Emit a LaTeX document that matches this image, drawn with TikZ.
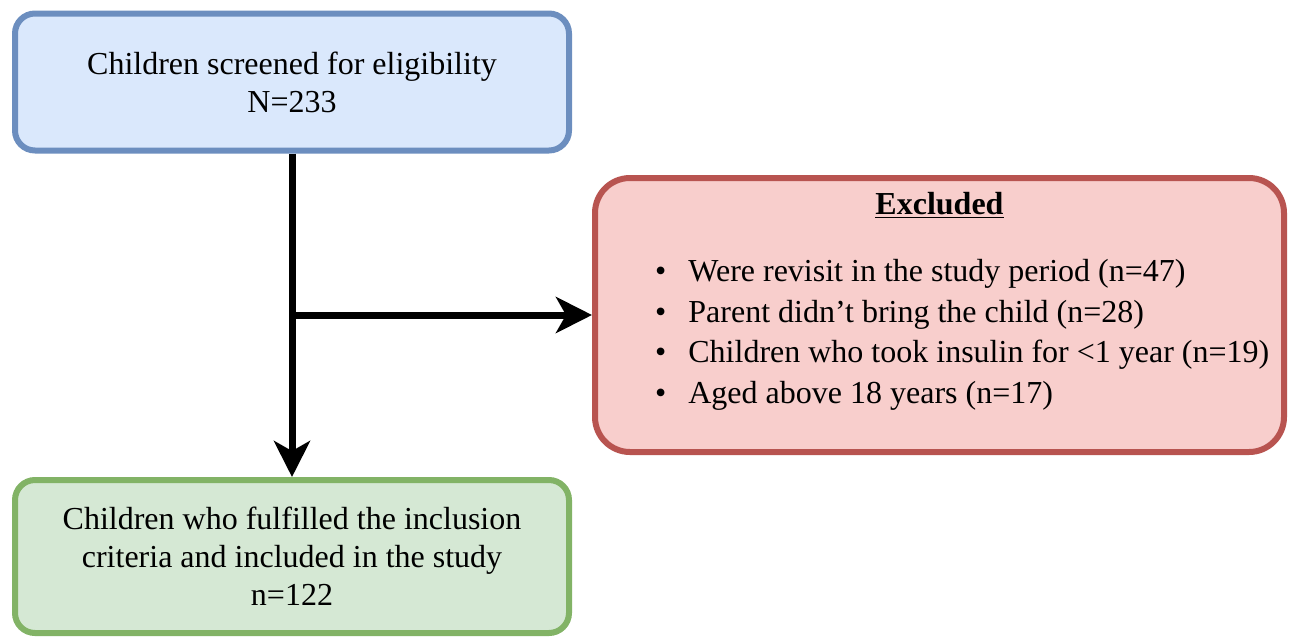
\documentclass[tikz,border=0pt]{standalone}
\usepackage{fontspec}
\setmainfont{Liberation Serif}
\usetikzlibrary{arrows.meta}

\definecolor{azulfundo}{HTML}{DAE8FC}
\definecolor{azulborda}{HTML}{6C8EBF}
\definecolor{vermelhofundo}{HTML}{F8CECC}
\definecolor{vermelhoborda}{HTML}{B85450}
\definecolor{verdefundo}{HTML}{D5E8D4}
\definecolor{verdeborda}{HTML}{82B366}

\begin{document}
\begin{tikzpicture}[
    x=1pt, y=-1pt,
    every node/.style={font=\fontsize{32}{38}\selectfont},
    etapa/.style={draw, line width=6pt, rounded corners=20pt, align=center, inner sep=0pt},
    seta/.style={-{Stealth[length=36pt, width=36pt, inset=10pt]}, line width=7pt}
]
\useasboundingbox (0,0) rectangle (1290,638);

% Triagem
\node[etapa, fill=azulfundo, draw=azulborda, minimum width=554pt, minimum height=137pt]
    (triagem) at (292,82) {Children screened for eligibility\\N=233};

% Excluidos
\node[etapa, fill=vermelhofundo, draw=vermelhoborda, rounded corners=35pt,
    minimum width=689pt, minimum height=274pt] (excluidos) at (939.5,315) {};
\node[font=\fontsize{32}{38}\selectfont\bfseries] (titulo) at (939.5,205) {\underline{Excluded}};
\node[anchor=west, align=left, inner sep=0pt, font=\fontsize{32}{40.5}\selectfont] (lista) at (655,335)
    {\textbullet\hspace{22pt}Were revisit in the study period (n=47)\\
     \textbullet\hspace{22pt}Parent didn’t bring the child (n=28)\\
     \textbullet\hspace{22pt}Children who took insulin for <1 year (n=19)\\
     \textbullet\hspace{22pt}Aged above 18 years (n=17)};

% Incluidos
\node[etapa, fill=verdefundo, draw=verdeborda, minimum width=554pt, minimum height=153pt]
    (incluidos) at (292,556.5) {Children who fulfilled the inclusion\\criteria and included in the study\\n=122};

% Setas
\coordinate (ramo) at (triagem.south |- excluidos.west);
\draw[seta] (triagem) -- (incluidos);
\draw[seta] (ramo) -- (excluidos.west);

\end{tikzpicture}
\end{document}
